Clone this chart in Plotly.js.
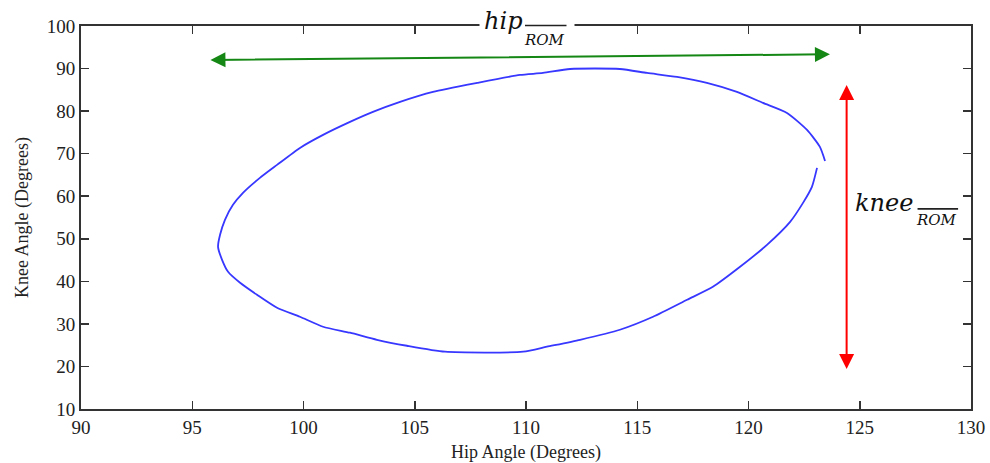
<!DOCTYPE html>
<html>
<head>
<meta charset="utf-8">
<script src="https://cdn.plot.ly/plotly-3.0.1.min.js"></script>
<style>html,body{margin:0;padding:0;background:#fff;}#chart{width:990px;height:463px;}</style>
</head>
<body>
<div id="chart"></div>
<script>
// Hip–knee angle loop (degrees)
const hipAngle = [123.44,123.21,122.63,121.73,120.65,119.48,118.13,116.79,115.44,114.22,111.98,110.76,109.73,107.80,105.82,104.34,103.12,102.09,100.88,99.84,98.81,98.04,97.28,96.83,96.47,96.25,96.16,96.34,96.61,97.15,97.91,98.81,99.84,100.88,102.09,103.30,104.65,106.36,109.87,110.94,112.43,114.22,115.71,117.24,118.40,119.62,120.83,121.87,122.45,122.85,123.08];
const kneeAngle = [68.30,71.59,75.58,79.57,81.92,84.50,86.62,88.03,88.96,89.90,89.90,88.96,88.49,86.62,84.50,82.16,79.81,77.46,74.41,71.35,67.36,64.31,60.79,57.97,54.45,50.93,48.11,45.06,42.24,39.66,36.84,33.79,31.67,29.33,27.92,26.27,24.86,23.46,23.46,24.63,26.27,28.62,31.67,35.67,38.72,43.41,48.58,53.98,58.44,62.20,66.66];

// Range-of-motion arrows: [start, end]
const hipRomX = [95.75, 123.66];
const hipRomY = [92.02, 93.36];
const kneeRomX = [124.41, 124.41];
const kneeRomY = [19.07, 86.15];

const xTicks = [90,95,100,105,110,115,120,125,130];
const yTicks = [10,20,30,40,50,60,70,80,90,100];

const serif = "Liberation Serif, Times New Roman, serif";
const italicSerif = "DejaVu Serif, Liberation Serif, serif";

const trace = {
  x: hipAngle, y: kneeAngle, type: 'scatter', mode: 'lines',
  line: {color: 'rgb(55,55,255)', width: 1.8, shape: 'spline', smoothing: 0.6},
  hoverinfo: 'skip', showlegend: false
};

const annotations = [
  // green double arrow (hip ROM)
  {x: hipRomX[1], y: hipRomY[1], ax: hipRomX[0], ay: hipRomY[0], xref: 'x', yref: 'y', axref: 'x', ayref: 'y',
   text: '', showarrow: true, arrowhead: 2, startarrowhead: 2, arrowside: 'end+start', arrowsize: 1.5, startarrowsize: 1.5,
   arrowwidth: 2, arrowcolor: 'rgb(20,135,20)', standoff: 0, startstandoff: 0},
  // red double arrow (knee ROM)
  {x: kneeRomX[1], y: kneeRomY[1], ax: kneeRomX[0], ay: kneeRomY[0], xref: 'x', yref: 'y', axref: 'x', ayref: 'y',
   text: '', showarrow: true, arrowhead: 2, startarrowhead: 2, arrowside: 'end+start', arrowsize: 1.5, startarrowsize: 1.5,
   arrowwidth: 2, arrowcolor: 'rgb(255,0,0)', standoff: 0, startstandoff: 0},
  // white gap in top axis line behind the hip label
  {x: 110.04, y: 1.001, xref: 'x', yref: 'paper', text: ' ', showarrow: false, width: 94, height: 20,
   bgcolor: '#ffffff', borderpad: 0, xanchor: 'center', yanchor: 'middle'},
  {x: 109.0, y: 1.012, xref: 'x', yref: 'paper', text: '<i>hip</i>', showarrow: false,
   font: {family: italicSerif, size: 24, color: '#111'}, xanchor: 'center', yanchor: 'middle'},
  {x: 110.85, y: 96.8, xref: 'x', yref: 'y', text: '<i>ROM</i>', showarrow: false,
   font: {family: italicSerif, size: 15, color: '#111'}, xanchor: 'center', yanchor: 'middle'},
  {x: 111.82, y: 1.0013, xref: 'x', yref: 'paper', ax: -43, ay: 0, axref: 'pixel', ayref: 'pixel',
   text: '', showarrow: true, arrowhead: 0, arrowwidth: 1.6, arrowcolor: '#222', standoff: 0, startstandoff: 0},
  // knee ROM label
  {x: 126.09, y: 58.3, xref: 'x', yref: 'y', text: '<i>knee</i>', showarrow: false,
   font: {family: italicSerif, size: 24, color: '#111'}, xanchor: 'center', yanchor: 'middle'},
  {x: 128.47, y: 54.3, xref: 'x', yref: 'y', text: '<i>ROM</i>', showarrow: false,
   font: {family: italicSerif, size: 15, color: '#111'}, xanchor: 'center', yanchor: 'middle'},
  {x: 129.42, y: 57.03, ax: 127.53, ay: 57.03, xref: 'x', yref: 'y', axref: 'x', ayref: 'y',
   text: '', showarrow: true, arrowhead: 0, arrowwidth: 1.6, arrowcolor: '#222', standoff: 0, startstandoff: 0}
];

const axisCommon = {
  showgrid: false, zeroline: false, showline: true, linecolor: '#333', linewidth: 2,
  mirror: 'ticks', ticks: 'inside', ticklen: 8, tickwidth: 1.5, tickcolor: '#333',
  tickfont: {family: serif, size: 19, color: '#222'}
};

const layout = {
  width: 990, height: 463,
  margin: {l: 81, r: 19, t: 26, b: 54},
  paper_bgcolor: '#ffffff', plot_bgcolor: '#ffffff',
  showlegend: false,
  xaxis: Object.assign({}, axisCommon, {
    range: [90, 130], tickvals: xTicks, ticktext: xTicks.map(String),
    title: {text: 'Hip Angle (Degrees)', font: {family: serif, size: 18, color: '#222'}, standoff: 9}
  }),
  yaxis: Object.assign({}, axisCommon, {
    range: [10, 100], tickvals: yTicks, ticktext: yTicks.map(String),
    title: {text: 'Knee Angle (Degrees)', font: {family: serif, size: 18, color: '#222'}, standoff: 13}
  }),
  annotations: annotations
};

Plotly.newPlot('chart', [trace], layout, {staticPlot: true, displayModeBar: false});
</script>
</body>
</html>
